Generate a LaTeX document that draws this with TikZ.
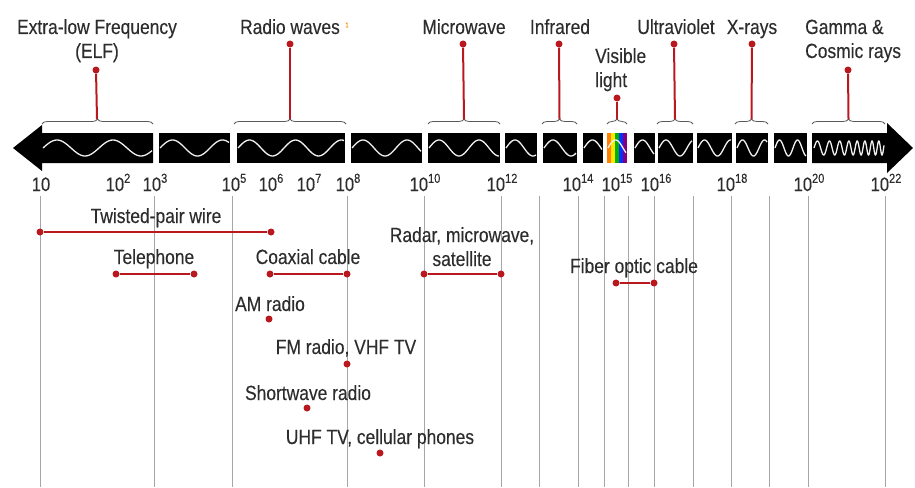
\documentclass[tikz,border=0pt]{standalone}
\usepackage{fontspec}
\setmainfont{Liberation Sans}[FakeStretch=0.85, FakeBold=0.25]
\usetikzlibrary{decorations.pathreplacing}
\definecolor{dotred}{RGB}{185,25,30}
\definecolor{txtgray}{RGB}{45,45,45}
\definecolor{gridgray}{RGB}{165,165,170}
\newcommand{\tenpow}[1]{10\raisebox{0.42em}{\fontsize{13}{13}\selectfont #1}}

\begin{document}
\begin{tikzpicture}[x=1pt, y=-1pt,
    lbl/.style={anchor=base, inner sep=0pt, text=txtgray, font=\fontsize{20.5}{22}\selectfont},
    lblw/.style={lbl, anchor=base west},
    pw/.style={lbl, font=\fontsize{19.5}{20}\selectfont},
    reddot/.style={circle, fill=dotred, inner sep=0pt, minimum size=7pt},
    redline/.style={dotred, line width=2pt},
    brc/.style={decorate, decoration={brace, amplitude=5pt}, gray!70!black, line width=0.8pt},
    wave/.style={white!88!gray, line width=1.3pt},
    gridline/.style={gridgray, line width=0.9pt}]
        \useasboundingbox (0,0) rectangle (915,487);

        % Vertical frequency lines
        \foreach \gx in {40,154,232,347,424,501,539,578,604,628,654,693,731,769,808,885}
            \draw[gridline] (\gx,196) -- (\gx,487);

        % Spectrum bar: arrow ends and blocks
        \fill[black] (153,133) -- (42,133) -- (42,125) -- (13,148) -- (42,171) -- (42,163) -- (153,163) -- cycle;
        \fill[black] (812,133) -- (887,133) -- (887,123) -- (913,148) -- (887,173) -- (887,163) -- (812,163) -- cycle;
        \foreach \xa/\xb in {159/230,237/345,351/422,428/500,505/537,543/577,583/603,634/655,658/693,697/732,736/768,774/807}
            \fill[black] (\xa,133) rectangle (\xb,163);

        % Visible light block
        \fill[orange] (607,133) rectangle (611,163);
        \fill[yellow!90!orange] (611,133) rectangle (615,163);
        \fill[green!70!black] (615,133) rectangle (619,163);
        \fill[blue!80!cyan] (619,133) rectangle (623,163);
        \fill[violet] (623,133) rectangle (627,163);

        % Waves inside the blocks
        \foreach \xa/\xb/\per in {43/152/56,160/229/50,238/344/46,352/421/44,429/499/40,506/536/36,544/576/36,584/602/34,608/626/30,635/654/30,659/692/28,698/731/26,737/767/22,775/806/18}
            \draw[wave] plot[domain=\xa:\xb, samples=60, smooth] (\x, {148 - 8*sin((\x-\xa)/\per*360)});
        \draw[wave] plot[domain=814:884, samples=240, smooth] (\x, {148 - 7*sin(((\x-814)/14 + ((\x-814)/40)^2)*360)});

        % Braces over the bands
        \draw[brc] (42,124) -- (153,124);
        \draw[brc] (234,124) -- (346,124);
        \draw[brc] (428,124) -- (500,124);
        \draw[brc] (542,124) -- (577,124);
        \draw[brc] (607,124) -- (627,124);
        \draw[brc] (657,124) -- (693,124);
        \draw[brc] (735,124) -- (768,124);
        \draw[brc] (812,124) -- (885,124);

        % Band names with pins
        \node[lbl] (elfA) at (97,34) {Extra-low Frequency};
        \node[lbl] (elfB) at (97,58) {(ELF)};
        \node[lbl] (radio) at (290,34) {Radio waves};
        \node[inner sep=0pt, text=orange, font=\fontsize{7}{7}\selectfont] (radiomark) at (347,25) {1};
        \node[lbl] (micro) at (464,34) {Microwave};
        \node[lbl] (infra) at (560,34) {Infrared};
        \node[lblw] (visA) at (595,63) {Visible};
        \node[lblw] (visB) at (595,87) {light};
        \node[lbl] (uv) at (676,34) {Ultraviolet};
        \node[lbl] (xray) at (752,34) {X-rays};
        \node[lblw] (gamA) at (805,34) {Gamma \&};
        \node[lblw] (gamB) at (805,58) {Cosmic rays};

        \node[reddot] (elfdot) at (96,70) {};
        \node[reddot] (radiodot) at (290,44) {};
        \node[reddot] (microdot) at (463,44) {};
        \node[reddot] (infradot) at (559,44) {};
        \node[reddot] (visdot) at (617,98) {};
        \node[reddot] (uvdot) at (674,44) {};
        \node[reddot] (xraydot) at (752,44) {};
        \node[reddot] (gamdot) at (848,70) {};
        \coordinate (elfb) at (97,119);
        \coordinate (radiob) at (290,119);
        \coordinate (microb) at (464,119);
        \coordinate (infrab) at (559.5,119);
        \coordinate (visb) at (617,119);
        \coordinate (uvb) at (675,119);
        \coordinate (xrayb) at (751.5,119);
        \coordinate (gamb) at (848.5,119);
        \draw[redline] (elfdot) -- (elfb);
        \draw[redline] (radiodot) -- (radiob);
        \draw[redline] (microdot) -- (microb);
        \draw[redline] (infradot) -- (infrab);
        \draw[redline] (visdot) -- (visb);
        \draw[redline] (uvdot) -- (uvb);
        \draw[redline] (xraydot) -- (xrayb);
        \draw[redline] (gamdot) -- (gamb);

        % Frequency labels
        \node[pw] (pw1) at (41,191) {10};
        \foreach \px/\e in {118/2,155/3,234/5,271/6,309/7,348/8,425/10,502/12,578/14,617/15,656/16,732/18,809/20,886/22}
            \node[pw] (pw\e) at (\px,191) {\tenpow{\e}};

        % Uses along the spectrum
        \node[lbl] (twisted) at (156,223) {Twisted-pair wire};
        \node[reddot] (twA) at (40,232) {};
        \node[reddot] (twB) at (271,232) {};
        \draw[redline] (twA) -- (twB);

        \node[lbl] (phone) at (154,264) {Telephone};
        \node[reddot] (phA) at (116,274) {};
        \node[reddot] (phB) at (194,274) {};
        \draw[redline] (phA) -- (phB);

        \node[lbl] (coax) at (308,264) {Coaxial cable};
        \node[reddot] (coA) at (270,274) {};
        \node[reddot] (coB) at (347,274) {};
        \draw[redline] (coA) -- (coB);

        \node[lbl] (radarA) at (462,242) {Radar, microwave,};
        \node[lbl] (radarB) at (462,266) {satellite};
        \node[reddot] (raA) at (424,274) {};
        \node[reddot] (raB) at (501,274) {};
        \draw[redline] (raA) -- (raB);

        \node[lbl] (fiber) at (634,273) {Fiber optic cable};
        \node[reddot] (fiA) at (616,283) {};
        \node[reddot] (fiB) at (654,283) {};
        \draw[redline] (fiA) -- (fiB);

        \node[lbl] (am) at (270,311) {AM radio};
        \node[reddot] (amdot) at (269,319) {};
        \node[lbl] (fm) at (346,354) {FM radio, VHF TV};
        \node[reddot] (fmdot) at (347,364) {};
        \node[lbl] (sw) at (308,400) {Shortwave radio};
        \node[reddot] (swdot) at (307,408) {};
        \node[lbl] (uhf) at (380,444) {UHF TV, cellular phones};
        \node[reddot] (uhfdot) at (380,453) {};
    \end{tikzpicture}
\end{document}
